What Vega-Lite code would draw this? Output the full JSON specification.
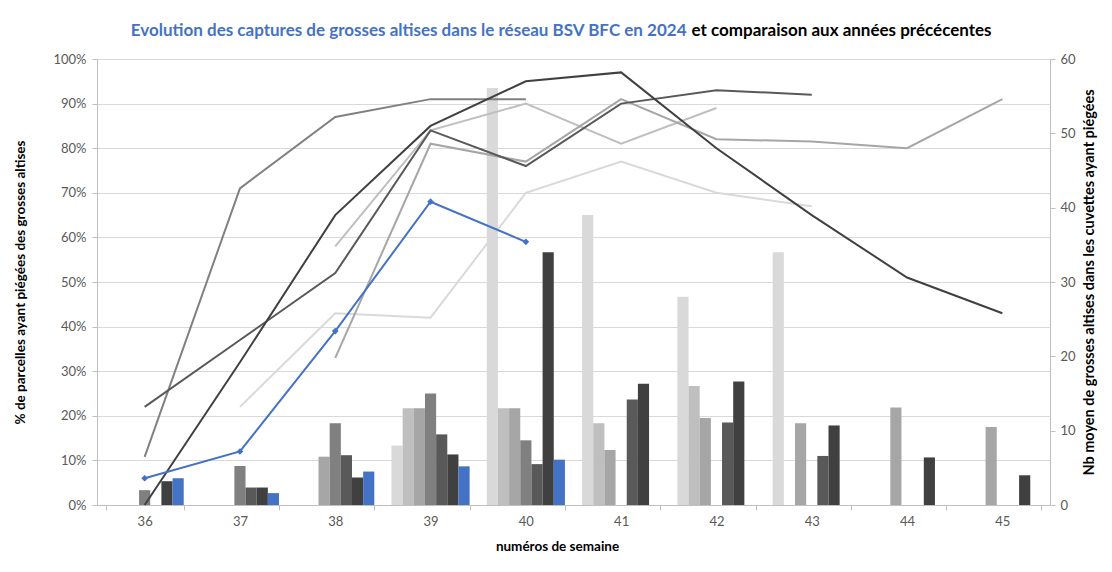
{
  "$schema": "https://vega.github.io/schema/vega-lite/v6.json",
  "width": 953,
  "height": 446,
  "autosize": "none",
  "padding": {"left": 97, "top": 59, "right": 62, "bottom": 67},
  "background": "white",
  "config": {
    "view": {"stroke": null},
    "font": "Lato",
    "axis": {
      "labelFont": "Lato",
      "labelFontSize": 13,
      "labelColor": "#595959",
      "titleFont": "Lato",
      "titleFontSize": 13.5,
      "titleFontWeight": "bold",
      "titleColor": "#000000",
      "domainColor": "#bfbfbf",
      "tickColor": "#bfbfbf",
      "gridColor": "#d9d9d9"
    }
  },
  "datasets": {
    "barres": [
      {"semaine": 36, "annee": "2021", "nb": 2.0},
      {"semaine": 36, "annee": "2023", "nb": 3.2},
      {"semaine": 36, "annee": "2024", "nb": 3.6},
      {"semaine": 37, "annee": "2021", "nb": 5.25},
      {"semaine": 37, "annee": "2022", "nb": 2.35},
      {"semaine": 37, "annee": "2023", "nb": 2.35},
      {"semaine": 37, "annee": "2024", "nb": 1.6},
      {"semaine": 38, "annee": "2020", "nb": 6.5},
      {"semaine": 38, "annee": "2021", "nb": 11.0},
      {"semaine": 38, "annee": "2022", "nb": 6.7},
      {"semaine": 38, "annee": "2023", "nb": 3.7},
      {"semaine": 38, "annee": "2024", "nb": 4.5},
      {"semaine": 39, "annee": "2018", "nb": 8.0},
      {"semaine": 39, "annee": "2019", "nb": 13.0},
      {"semaine": 39, "annee": "2020", "nb": 13.0},
      {"semaine": 39, "annee": "2021", "nb": 15.0},
      {"semaine": 39, "annee": "2022", "nb": 9.5},
      {"semaine": 39, "annee": "2023", "nb": 6.8},
      {"semaine": 39, "annee": "2024", "nb": 5.2},
      {"semaine": 40, "annee": "2018", "nb": 56.1},
      {"semaine": 40, "annee": "2019", "nb": 13.0},
      {"semaine": 40, "annee": "2020", "nb": 13.0},
      {"semaine": 40, "annee": "2021", "nb": 8.7},
      {"semaine": 40, "annee": "2022", "nb": 5.5},
      {"semaine": 40, "annee": "2023", "nb": 34.0},
      {"semaine": 40, "annee": "2024", "nb": 6.1},
      {"semaine": 41, "annee": "2018", "nb": 39.0},
      {"semaine": 41, "annee": "2019", "nb": 11.0},
      {"semaine": 41, "annee": "2020", "nb": 7.4},
      {"semaine": 41, "annee": "2022", "nb": 14.2},
      {"semaine": 41, "annee": "2023", "nb": 16.3},
      {"semaine": 42, "annee": "2018", "nb": 28.0},
      {"semaine": 42, "annee": "2019", "nb": 16.0},
      {"semaine": 42, "annee": "2020", "nb": 11.7},
      {"semaine": 42, "annee": "2022", "nb": 11.1},
      {"semaine": 42, "annee": "2023", "nb": 16.6},
      {"semaine": 43, "annee": "2018", "nb": 34.0},
      {"semaine": 43, "annee": "2020", "nb": 11.0},
      {"semaine": 43, "annee": "2022", "nb": 6.6},
      {"semaine": 43, "annee": "2023", "nb": 10.7},
      {"semaine": 44, "annee": "2020", "nb": 13.1},
      {"semaine": 44, "annee": "2023", "nb": 6.4},
      {"semaine": 45, "annee": "2020", "nb": 10.5},
      {"semaine": 45, "annee": "2023", "nb": 4.0}
    ],
    "lignes": [
      {"semaine": 37, "annee": "2018", "pct": 22},
      {"semaine": 38, "annee": "2018", "pct": 43},
      {"semaine": 39, "annee": "2018", "pct": 42},
      {"semaine": 40, "annee": "2018", "pct": 70},
      {"semaine": 41, "annee": "2018", "pct": 77},
      {"semaine": 42, "annee": "2018", "pct": 70},
      {"semaine": 43, "annee": "2018", "pct": 67},
      {"semaine": 38, "annee": "2019", "pct": 58},
      {"semaine": 39, "annee": "2019", "pct": 84},
      {"semaine": 40, "annee": "2019", "pct": 90},
      {"semaine": 41, "annee": "2019", "pct": 81},
      {"semaine": 42, "annee": "2019", "pct": 89},
      {"semaine": 38, "annee": "2020", "pct": 33},
      {"semaine": 39, "annee": "2020", "pct": 81},
      {"semaine": 40, "annee": "2020", "pct": 77},
      {"semaine": 41, "annee": "2020", "pct": 91},
      {"semaine": 42, "annee": "2020", "pct": 82},
      {"semaine": 43, "annee": "2020", "pct": 81.5},
      {"semaine": 44, "annee": "2020", "pct": 80},
      {"semaine": 45, "annee": "2020", "pct": 91},
      {"semaine": 36, "annee": "2021", "pct": 10.8},
      {"semaine": 37, "annee": "2021", "pct": 71},
      {"semaine": 38, "annee": "2021", "pct": 87},
      {"semaine": 39, "annee": "2021", "pct": 91},
      {"semaine": 40, "annee": "2021", "pct": 91},
      {"semaine": 36, "annee": "2022", "pct": 22},
      {"semaine": 37, "annee": "2022", "pct": 37},
      {"semaine": 38, "annee": "2022", "pct": 52},
      {"semaine": 39, "annee": "2022", "pct": 84},
      {"semaine": 40, "annee": "2022", "pct": 76},
      {"semaine": 41, "annee": "2022", "pct": 90},
      {"semaine": 42, "annee": "2022", "pct": 93},
      {"semaine": 43, "annee": "2022", "pct": 92},
      {"semaine": 36, "annee": "2023", "pct": 0},
      {"semaine": 37, "annee": "2023", "pct": 32},
      {"semaine": 38, "annee": "2023", "pct": 65},
      {"semaine": 39, "annee": "2023", "pct": 85},
      {"semaine": 40, "annee": "2023", "pct": 95},
      {"semaine": 41, "annee": "2023", "pct": 97},
      {"semaine": 42, "annee": "2023", "pct": 80},
      {"semaine": 43, "annee": "2023", "pct": 65},
      {"semaine": 44, "annee": "2023", "pct": 51},
      {"semaine": 45, "annee": "2023", "pct": 43},
      {"semaine": 36, "annee": "2024", "pct": 6},
      {"semaine": 37, "annee": "2024", "pct": 12},
      {"semaine": 38, "annee": "2024", "pct": 39},
      {"semaine": 39, "annee": "2024", "pct": 68},
      {"semaine": 40, "annee": "2024", "pct": 59}
    ]
  },
  "layer": [
    {
      "data": {"name": "barres"},
      "mark": {"type": "bar"},
      "encoding": {
        "x": {
          "field": "semaine", "type": "ordinal",
          "scale": {"domain": [36, 37, 38, 39, 40, 41, 42, 43, 44, 45], "paddingInner": 0.18, "paddingOuter": 0.09},
          "axis": {"orient": "bottom", "title": "numéros de semaine", "labelAngle": 0, "tickBand": "extent", "tickSize": 5, "labelPadding": 5, "titlePadding": 11, "titleX": 460, "grid": false}
        },
        "xOffset": {
          "field": "annee", "type": "nominal",
          "scale": {"domain": ["2018", "2019", "2020", "2021", "2022", "2023", "2024"], "paddingInner": 0, "paddingOuter": 0}
        },
        "y": {
          "field": "nb", "type": "quantitative",
          "scale": {"domain": [0, 60], "nice": false},
          "axis": {"orient": "right", "values": [0, 10, 20, 30, 40, 50, 60], "grid": false, "tickSize": 5, "labelPadding": 5, "title": "Nb moyen de grosses altises dans les cuvettes ayant piégées", "titleAngle": 270, "titlePadding": 21, "titleFontSize": 14.5}
        },
        "color": {
          "field": "annee", "type": "nominal",
          "scale": {"domain": ["2018", "2019", "2020", "2021", "2022", "2023", "2024"], "range": ["#d9d9d9", "#bfbfbf", "#a6a6a6", "#808080", "#595959", "#404040", "#4472c4"]},
          "legend": null
        }
      }
    },
    {
      "data": {"name": "lignes"},
      "mark": {"type": "line", "strokeWidth": 2},
      "encoding": {
        "x": {
          "field": "semaine", "type": "ordinal",
          "scale": {"domain": [36, 37, 38, 39, 40, 41, 42, 43, 44, 45], "paddingInner": 0.18, "paddingOuter": 0.09},
          "axis": {"orient": "top", "labels": false, "ticks": false, "domain": false, "grid": false, "title": "Evolution des captures de grosses altises dans le réseau BSV BFC en 2024", "titleColor": "#4472c4", "titleX": 589, "titleY": -24, "titleAlign": "right", "titleBaseline": "alphabetic", "titleFontSize": 17, "titleFontWeight": "bold"}
        },
        "y": {
          "field": "pct", "type": "quantitative",
          "scale": {"domain": [0, 100], "nice": false},
          "axis": {"orient": "left", "values": [0, 10, 20, 30, 40, 50, 60, 70, 80, 90, 100], "labelExpr": "datum.value + '%'", "grid": true, "tickSize": 5, "labelPadding": 6, "title": "% de parcelles ayant piégées des grosses altises", "titlePadding": 25}
        },
        "color": {
          "field": "annee", "type": "nominal",
          "scale": {"domain": ["2018", "2019", "2020", "2021", "2022", "2023", "2024"], "range": ["#d9d9d9", "#bfbfbf", "#a6a6a6", "#808080", "#595959", "#404040", "#4472c4"]},
          "legend": null
        }
      }
    },
    {
      "data": {"name": "lignes"},
      "transform": [{"filter": "datum.annee == '2024'"}],
      "mark": {"type": "point", "shape": "diamond", "filled": true, "size": 45, "color": "#4472c4", "opacity": 1},
      "encoding": {
        "x": {
          "field": "semaine", "type": "ordinal",
          "scale": {"domain": [36, 37, 38, 39, 40, 41, 42, 43, 44, 45], "paddingInner": 0.18, "paddingOuter": 0.09},
          "axis": {"orient": "top", "labels": false, "ticks": false, "domain": false, "grid": false, "title": "et comparaison  aux années précécentes", "titleColor": "#000000", "titleX": 594, "titleY": -24, "titleAlign": "left", "titleBaseline": "alphabetic", "titleFontSize": 17, "titleFontWeight": "bold"}
        },
        "y": {
          "field": "pct", "type": "quantitative",
          "scale": {"domain": [0, 100], "nice": false},
          "axis": null
        }
      }
    }
  ],
  "resolve": {"scale": {"y": "independent"}, "axis": {"x": "independent", "y": "independent"}}
}
